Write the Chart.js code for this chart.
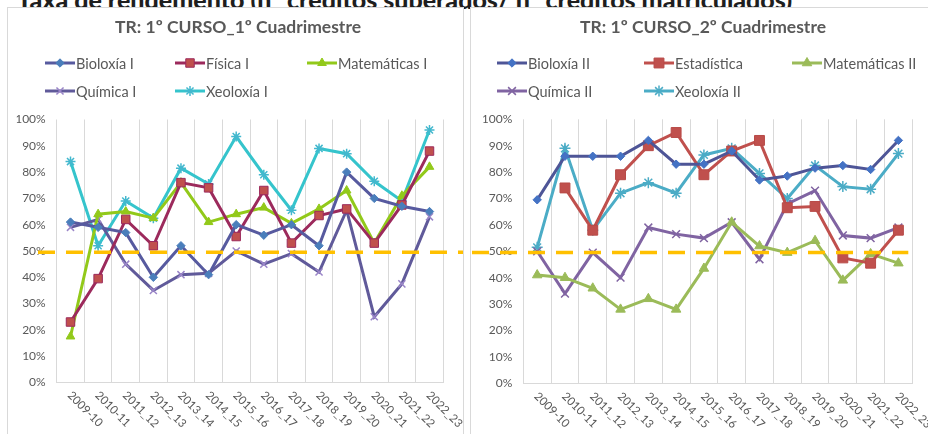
<!DOCTYPE html>
<html>
<head>
<meta charset="utf-8">
<script src="https://cdn.jsdelivr.net/npm/chart.js@4.4.1/dist/chart.umd.min.js"></script>
<style>
    body { margin: 0; width: 928px; height: 434px; overflow: hidden; background: #fff; font-family: Lato, "Noto Sans", sans-serif; position: relative; }
    #pageTitle { position: absolute; left: 17px; top: -16px; font: 900 25px Lato, sans-serif; color: #1e1e1e; white-space: nowrap; }
    .box { position: absolute; top: 7px; height: 460px; border: 1px solid #d9d9d9; background: #fff; }
    canvas { position: absolute; top: 8px; }
</style>
</head>
<body>
<div id="pageTitle">Taxa de rendemento (nº créditos superados/ nº créditos matriculados)</div>
<div class="box" style="left:7px;width:455px"></div>
<div class="box" style="left:470px;width:470px"></div>
<canvas id="chart-c1" width="455" height="426" style="left:8px"></canvas>
<canvas id="chart-c2" width="456" height="426" style="left:472px"></canvas>

<script>
// Cursos académicos (eje X)
const years = ['2009-10', '2010-11', '2011_12', '2012_13', '2013_14', '2014_15', '2015_16',
               '2016_17', '2017_18', '2018_19', '2019_20', '2020_21', '2021_22', '2022_23'];

// Liña de referencia (50% aprox.)
const refValue = 49.5;

// 1º Cuadrimestre (%)
const bioloxiaI    = [61, 59, 57, 40, 52, 41, 60, 56, 60, 52, 80, 70, 67, 65];
const fisicaI      = [23, 39.5, 62, 52, 76, 74, 55.5, 73, 53, 63.5, 66, 53, 67.5, 88];
const matematicasI = [17.5, 64, 65, 62.5, 76, 61, 64, 66.5, 60.5, 66, 73, 53, 71, 82];
const quimicaI     = [59, 62, 45, 35, 41, 41.5, 50, 45, 49, 42, 65.5, 25, 37.5, 63];
const xeoloxiaI    = [84, 52, 69, 62.5, 81.5, 75.5, 93.5, 79, 65.5, 89, 87, 76.5, 69, 96];

// 2º Cuadrimestre (%)
const bioloxiaII    = [69.5, 86, 86, 86, 92, 83, 83, 88, 77, 78.5, 81.5, 82.5, 81, 92];
const estadistica   = [null, 74, 58, 79, 90, 95, 79, 88, 92, 66.5, 67, 47.5, 45.5, 58];
const matematicasII = [41, 40, 36, 28, 32, 28, 43.5, 61, 52, 49.5, 54, 39, 49, 45.5];
const quimicaII     = [50, 34, 49.5, 40, 59, 56.5, 55, 61, 47, 68, 73, 56, 55, 59];
const xeoloxiaII    = [51.5, 89, 58, 72, 76, 72, 86.5, 89, 79.5, 70, 82.5, 74.5, 73.5, 87];

const TEXT = '#595959';
const GRID = '#d9d9d9';

function serie(label, data, line, marker, edge, style, radius, bw) {
    return {
        label, data,
        borderColor: line,
        borderWidth: 3,
        pointStyle: style,
        pointRadius: radius,
        pointHoverRadius: radius,
        pointBackgroundColor: marker,
        pointBorderColor: edge,
        pointBorderWidth: bw,
        tension: 0
    };
}

// titulo + lenda en reixa fixa, como en Excel
const boxHeader = {
    id: 'boxHeader',
    afterDraw(chart, args, opts) {
        const ctx = chart.ctx;
        ctx.save();
        ctx.fillStyle = TEXT;
        ctx.font = 'bold 17.5px Lato';
        ctx.textAlign = 'center';
        ctx.textBaseline = 'middle';
        ctx.fillText(opts.title, opts.titleX, 19);

        ctx.font = '14.5px Lato';
        ctx.textAlign = 'left';
        chart.data.datasets.forEach((ds, i) => {
            const x = opts.cols[i % 3];
            const y = opts.rows[Math.floor(i / 3)];
            ctx.setLineDash([]);
            ctx.strokeStyle = ds.borderColor;
            ctx.lineWidth = ds.borderWidth;
            ctx.beginPath();
            ctx.moveTo(x, y);
            ctx.lineTo(x + 30, y);
            ctx.stroke();
            ctx.fillStyle = ds.pointBackgroundColor;
            ctx.strokeStyle = ds.pointBorderColor;
            ctx.lineWidth = ds.pointBorderWidth;
            Chart.helpers.drawPoint(ctx, {
                pointStyle: ds.pointStyle, radius: ds.pointRadius,
                rotation: 0, borderWidth: ds.pointBorderWidth
            }, x + 15, y);
            ctx.fillStyle = TEXT;
            ctx.fillText(ds.label, x + 31, y + 1);
        });
        ctx.restore();
    }
};

// etiquetas do eje X inclinadas cara abaixo
const slantedLabels = {
    id: 'slantedLabels',
    afterDraw(chart) {
        const { ctx, chartArea } = chart;
        const xs = chart.scales.x;
        ctx.save();
        ctx.font = '11.5px Lato';
        ctx.fillStyle = TEXT;
        ctx.textAlign = 'left';
        ctx.textBaseline = 'middle';
        xs.ticks.forEach((t, i) => {
            ctx.save();
            ctx.translate(xs.getPixelForTick(i) - 1, chartArea.bottom + 11);
            ctx.rotate(Math.PI / 4);
            ctx.fillText(xs.getLabelForValue(t.value), 0, 0);
            ctx.restore();
        });
        ctx.restore();
    }
};

const refLine = {
    id: 'refLine',
    afterDatasetsDraw(chart, args, opts) {
        const ctx = chart.ctx;
        const y = chart.scales.y.getPixelForValue(refValue);
        const x1 = opts.to === null ? chart.width : chart.chartArea.right + opts.to;
        ctx.save();
        ctx.strokeStyle = '#ffc000';
        ctx.lineWidth = 3.5;
        ctx.setLineDash([17, 11]);
        ctx.beginPath();
        ctx.moveTo(opts.from, y);
        ctx.lineTo(x1, y);
        ctx.stroke();
        ctx.restore();
    }
};

function renderChart(id, datasets, cfg) {
    const el = document.getElementById(id);
    if (!el) return null;
    return new Chart(el.getContext('2d'), {
        type: 'line',
        data: { labels: years, datasets },
        plugins: [boxHeader, slantedLabels, refLine],
        options: {
            responsive: false,
            animation: false,
            layout: { padding: cfg.padding },
            plugins: {
                legend: { display: false },
                tooltip: { enabled: false },
                boxHeader: cfg.header,
                refLine: cfg.ref
            },
            scales: {
                x: {
                    offset: true,
                    grid: { offset: true, color: GRID, drawTicks: false },
                    border: { color: GRID },
                    ticks: { display: false },
                    afterFit: s => { s.height = cfg.xHeight; }
                },
                y: {
                    min: 0, max: 100,
                    grid: { display: false, drawTicks: false },
                    border: { display: false },
                    ticks: {
                        stepSize: 10, padding: 11, color: TEXT,
                        font: { family: 'Lato', size: 12 },
                        callback: v => v + '%'
                    },
                    afterFit: s => { s.width = 40; }
                }
            }
        }
    });
}

renderChart('chart-c1', [
    serie('Bioloxía I', bioloxiaI, '#575a9f', '#4a7ebb', '#4a7ebb', 'rectRot', 4.2, 1),
    serie('Física I', fisicaI, '#9c2a5c', '#c0504d', '#9c2a5c', 'rect', 6, 1),
    serie('Matemáticas I', matematicasI, '#92c91a', '#92c91a', '#92c91a', 'triangle', 5, 1),
    serie('Química I', quimicaI, '#605a9a', '#9a85c8', '#9a85c8', 'crossRot', 5, 1.5),
    serie('Xeoloxía I', xeoloxiaI, '#35c4cc', '#43b8ce', '#43b8ce', 'star', 5, 1.5)
], {
    padding: { left: 8.7, right: 19.7, top: 111.5, bottom: 0 },
    xHeight: 51.5,
    header: { title: 'TR: 1º CURSO_1º Cuadrimestre', titleX: 230, cols: [37, 167, 299], rows: [55, 83] },
    ref: { from: 30, to: null }
});

renderChart('chart-c2', [
    serie('Bioloxía II', bioloxiaII, '#4e5597', '#4472c4', '#4472c4', 'rectRot', 4.2, 1),
    serie('Estadística', estadistica, '#c0504d', '#c0504d', '#b84a47', 'rect', 7, 1),
    serie('Matemáticas II', matematicasII, '#9bbb59', '#9bbb59', '#9bbb59', 'triangle', 5.5, 1),
    serie('Química II', quimicaII, '#8064a2', '#8064a2', '#8064a2', 'crossRot', 5.5, 1.5),
    serie('Xeoloxía II', xeoloxiaII, '#4bacc6', '#4bacc6', '#4bacc6', 'star', 5.5, 1.5)
], {
    padding: { left: 11.3, right: 15.7, top: 111.3, bottom: 0 },
    xHeight: 50.7,
    header: { title: 'TR: 1º CURSO_2º Cuadrimestre', titleX: 231, cols: [25, 172, 320], rows: [55, 83] },
    ref: { from: 0, to: -4 }
});
</script>
</body>
</html>
